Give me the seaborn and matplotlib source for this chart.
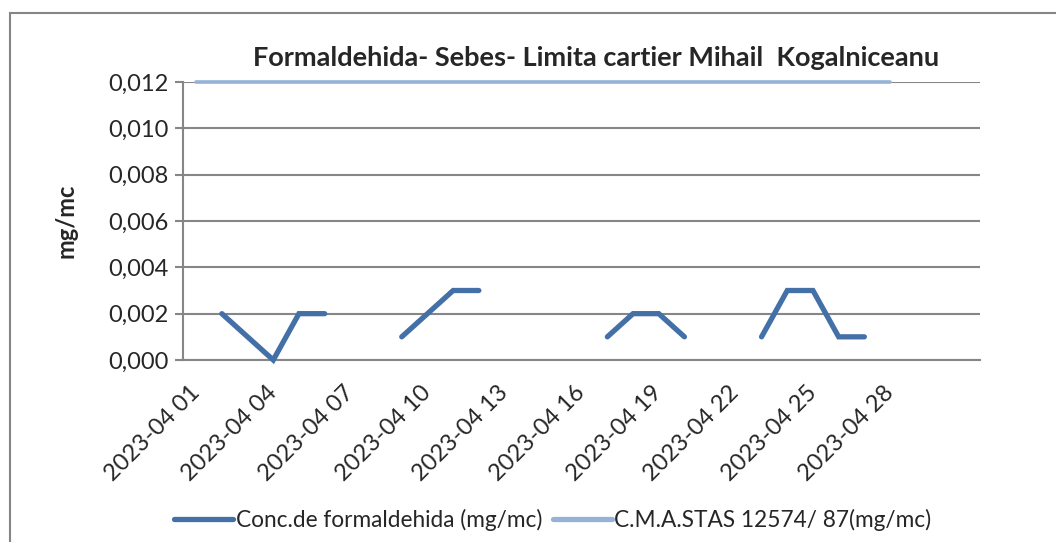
# Formaldehida - Sebes - linie concentratie vs limita C.M.A.
import numpy as np
import pandas as pd
import seaborn as sns
import matplotlib.pyplot as plt
from matplotlib.lines import Line2D
from matplotlib.patches import Rectangle
from matplotlib.ticker import FuncFormatter

# categorii (zilele lunii, ultima fara eticheta)
days = ['2023-04 %02d' % d for d in range(1, 31)] + ['']
# concentratii masurate (mg/mc), None = lipsa masuratoare
conc = [None, 0.002, 0.001, 0.000, 0.002, 0.002, None, None,
        0.001, 0.002, 0.003, 0.003, None, None, None, None,
        0.001, 0.002, 0.002, 0.001, None, None,
        0.001, 0.003, 0.003, 0.001, 0.001, None, None, None, None]
# limita C.M.A.
limit = [0.012] * 28 + [None] * 3

title = 'Formaldehida- Sebes- Limita cartier Mihail  Kogalniceanu'
conc_label = 'Conc.de formaldehida (mg/mc)'
limit_label = 'C.M.A.STAS 12574/ 87(mg/mc)'
shown_ticks = list(range(0, 28, 3))

conc_color = '#4470A8'
limit_color = '#95B3D7'
axis_gray = '#868686'


def to_segments(values):
    """
    transforma seria in df cu coloana de segment, ca sa ramana golurile
    """
    rows = []
    seg = 0
    prev_none = True
    for i, v in enumerate(values):
        if v is None:
            prev_none = True
            continue
        if prev_none:
            seg += 1
        prev_none = False
        rows.append({'x': i, 'y': v, 'seg': seg})
    return pd.DataFrame(rows)


sns.set_style('white')
plt.rcParams['font.family'] = ['Lato', 'DejaVu Sans']

fig = plt.figure(figsize=(10.56, 5.42), dpi=100)
ax = fig.add_axes([183.3 / 1056, 1 - 360 / 542, (980 - 183.3) / 1056, (360 - 82) / 542])

conc_df = to_segments(conc)
limit_df = to_segments(limit)

sns.lineplot(data=limit_df, x='x', y='y', units='seg', estimator=None, ax=ax,
             color=limit_color, linewidth=2.6, solid_capstyle='round', zorder=3,
             clip_on=False)
sns.lineplot(data=conc_df, x='x', y='y', units='seg', estimator=None, ax=ax,
             color=conc_color, linewidth=3.8, solid_capstyle='round',
             solid_joinstyle='miter', zorder=4, clip_on=False)

ax.set_xlim(-0.5, len(days) - 0.5)
ax.set_ylim(0, 0.012)
ax.set_yticks(np.arange(0, 0.0121, 0.002))
ax.yaxis.set_major_formatter(FuncFormatter(lambda v, p: ('%.3f' % v).replace('.', ',')))
ax.grid(axis='y', color=axis_gray, linewidth=1.5)
ax.set_axisbelow(True)

ax.set_xticks(shown_ticks)
ax.set_xticklabels([days[i] for i in shown_ticks], rotation=45, ha='right',
                   va='center', rotation_mode='anchor')
ax.set_xticks(np.arange(-0.5, len(days)), minor=True)
ax.tick_params(axis='x', which='major', length=0, pad=21, labelsize=17)
ax.tick_params(axis='x', which='minor', length=5.5, width=1.5, color=axis_gray, direction='out')
ax.tick_params(axis='y', length=5.5, width=1.5, color=axis_gray, direction='out',
               labelsize=17, pad=5, left=True)

for s in ['top', 'right']:
    ax.spines[s].set_visible(False)
for s in ['left', 'bottom']:
    ax.spines[s].set_color(axis_gray)
    ax.spines[s].set_linewidth(1.5)

ax.set_xlabel('')
ax.set_ylabel('mg/mc', fontsize=17, fontweight='bold', labelpad=22)

fig.text(596 / 1056, 1 - 58 / 542, title, ha='center', va='center',
         fontsize=19.5, fontweight='bold')

handles = [Line2D([], [], color=conc_color, linewidth=3.8, solid_capstyle='round'),
           Line2D([], [], color=limit_color, linewidth=3.8, solid_capstyle='round')]
fig.legend(handles, [conc_label, limit_label], loc='center',
           bbox_to_anchor=(553 / 1056, 1 - 520 / 542), ncol=2, frameon=False,
           fontsize=16.3, handlelength=2.6, handletextpad=0.1, columnspacing=0.5)

# chenarul graficului
fig.patches.append(Rectangle((10 / 1056, -0.1), 1.2, (542 - 13) / 542 + 0.1,
                             transform=fig.transFigure, fill=False,
                             edgecolor=axis_gray, linewidth=1.5))

fig.savefig('out.png', dpi=100)
